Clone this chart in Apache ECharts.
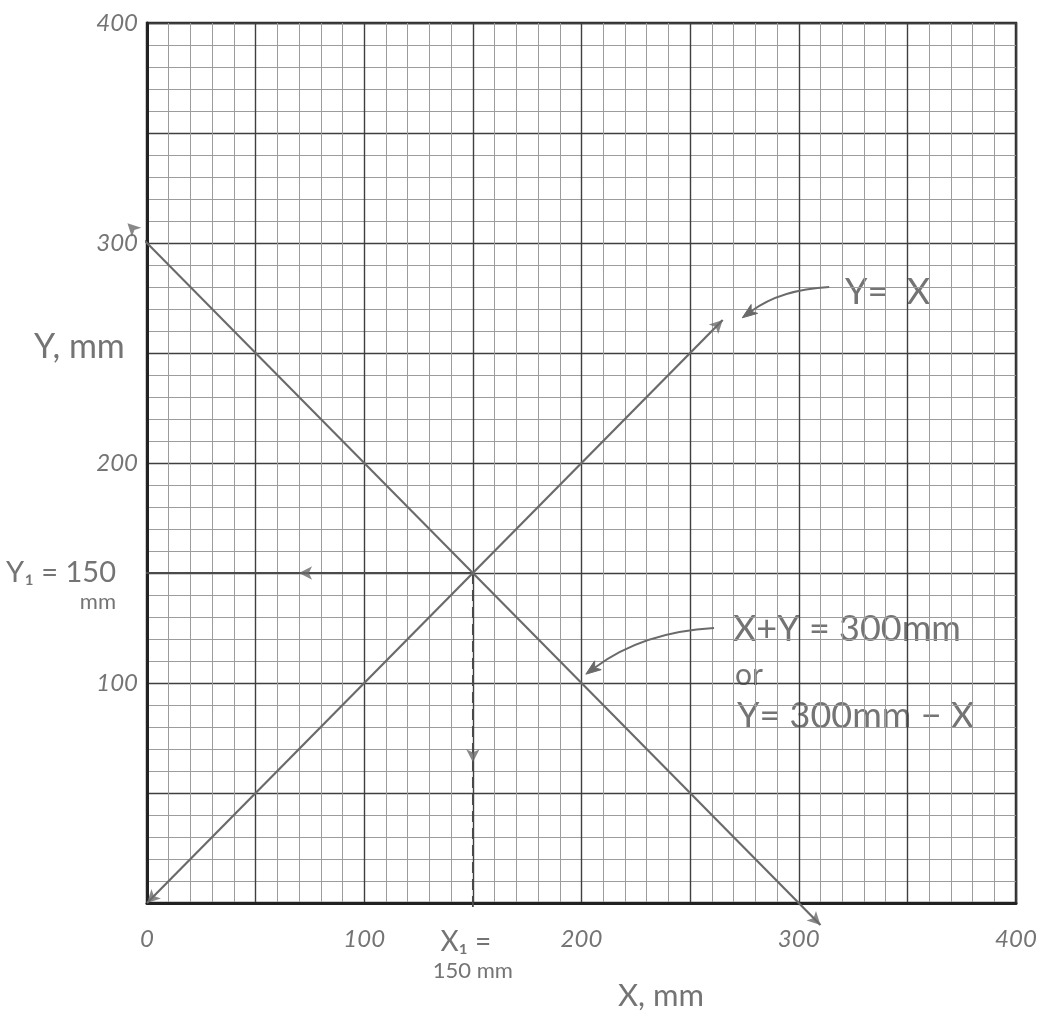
<!DOCTYPE html>
<html><head><meta charset="utf-8">
<script src="https://cdn.jsdelivr.net/npm/echarts@6/dist/echarts.min.js"></script>
<style>html,body{margin:0;padding:0;background:#fff}#c{width:1051px;height:1016px}</style>
</head><body><div id="c"></div>
<script>
// ---- data ----
const axisMin = 0, axisMax = 400, majorStep = 50, minorPerMajor = 5;
const xTickLabels = [0, 100, 200, 300, 400];
const yTickLabels = [100, 200, 300, 400];
const solutionX = 150, solutionY = 150;
const lineYeqX = [[0, 0], [265, 265]];
const lineSum300 = [[-9, 309], [310, -10]];
const projY = [[150, 150], [-3, 150]];
const projX = [[150, 150], [150, -4]];
const projYArrowAt = [70, 150];
const projXArrowAt = [150, 64];
const calloutYeqX = [314, 280, 274, 266];
const calloutSum = [261, 125, 202, 104];

// ---- helpers ----
function dirRot(a, b) { // rotation so that 'arrow' symbol points from a to b
  const ang = Math.atan2(b[1] - a[1], b[0] - a[0]) * 180 / Math.PI;
  return ang - 90;
}
const arrowPts = [
  { value: lineYeqX[1], symbolRotate: dirRot(lineYeqX[0], lineYeqX[1]) },
  { value: lineYeqX[0], symbolRotate: dirRot(lineYeqX[1], lineYeqX[0]) },
  { value: lineSum300[0], symbolRotate: dirRot(lineSum300[1], lineSum300[0]) },
  { value: lineSum300[1], symbolRotate: dirRot(lineSum300[0], lineSum300[1]) },
  { value: projYArrowAt, symbolRotate: dirRot(projY[0], projY[1]) },
  { value: projXArrowAt, symbolRotate: dirRot(projX[0], projX[1]) }
];

const ink = '#6a6a6a';
const txt = '#747474';
const fontFam = 'Lato, "Open Sans", sans-serif';

function renderCallout(params, api) {
  const p0 = api.coord([api.value(0), api.value(1)]);
  const p1 = api.coord([api.value(2), api.value(3)]);
  const mx = (p0[0] + p1[0]) / 2, my = (p0[1] + p1[1]) / 2;
  const dx = p1[0] - p0[0], dy = p1[1] - p0[1];
  const k = 0.15;
  const cx = mx - dy * k, cy = my + dx * k;
  let tx = p1[0] - cx, ty = p1[1] - cy;
  const tl = Math.hypot(tx, ty); tx /= tl; ty /= tl;
  const L = 15, W = 5.5;
  const bx = p1[0] - tx * L, by = p1[1] - ty * L;
  return {
    type: 'group',
    children: [
      { type: 'bezierCurve', shape: { x1: p0[0], y1: p0[1], x2: bx + tx * 4, y2: by + ty * 4, cpx1: cx, cpy1: cy },
        style: { stroke: ink, lineWidth: 1.8, fill: null } },
      { type: 'polygon', shape: { points: [[p1[0], p1[1]], [bx - ty * W, by + tx * W], [bx + tx * 4, by + ty * 4], [bx + ty * W, by - tx * W]] },
        style: { fill: ink, stroke: ink, lineWidth: 1 } }
    ]
  };
}

const chart = echarts.init(document.getElementById('c'), null, { renderer: 'canvas' });
chart.setOption({
  animation: false,
  backgroundColor: '#ffffff',
  grid: { left: 147, right: 35, top: 23, bottom: 113, show: true, borderColor: '#2e2e2e', borderWidth: 2.5 },
  xAxis: {
    type: 'value', min: axisMin, max: axisMax, interval: majorStep,
    minorTick: { show: false, splitNumber: minorPerMajor },
    minorSplitLine: { show: true, lineStyle: { color: '#9c9c9c', width: 1 } },
    splitLine: { show: true, lineStyle: { color: '#3f3f3f', width: 1.4 } },
    axisLine: { show: true, onZero: false, lineStyle: { color: '#222', width: 3 } },
    axisTick: { show: false },
    axisLabel: {
      showMinLabel: true, showMaxLabel: true, margin: 24,
      color: txt, fontSize: 24, fontStyle: 'italic', fontFamily: fontFam,
      formatter: v => v === solutionX ? '{a|X₁ =}\n{b|150 mm}' : (xTickLabels.includes(v) ? String(v) : ''),
      rich: {
        a: { fontSize: 28, color: txt, fontFamily: fontFam, fontStyle: 'normal', lineHeight: 30, padding: [0, 14, 0, 0] },
        b: { fontSize: 22, color: txt, fontFamily: fontFam, fontStyle: 'normal', lineHeight: 28 }
      }
    }
  },
  yAxis: {
    type: 'value', min: axisMin, max: axisMax, interval: majorStep,
    minorTick: { show: false, splitNumber: minorPerMajor },
    minorSplitLine: { show: true, lineStyle: { color: '#9c9c9c', width: 1 } },
    splitLine: { show: true, lineStyle: { color: '#3f3f3f', width: 1.4 } },
    axisLine: { show: true, onZero: false, lineStyle: { color: '#222', width: 3 } },
    axisTick: { show: false },
    axisLabel: {
      showMinLabel: false, showMaxLabel: true, margin: 9,
      color: txt, fontSize: 24, fontStyle: 'italic', fontFamily: fontFam,
      formatter: v => v === solutionY ? '{e| }\n{a|Y₁ = 150}\n{b|mm}' : (yTickLabels.includes(v) ? String(v) : ''),
      rich: {
        e: { fontSize: 20, lineHeight: 26 },
        a: { fontSize: 29, color: txt, fontFamily: fontFam, fontStyle: 'normal', lineHeight: 32, padding: [0, 22, 0, 0], align: 'right' },
        b: { fontSize: 22, color: txt, fontFamily: fontFam, fontStyle: 'normal', lineHeight: 26, padding: [0, 22, 0, 0], align: 'right' }
      }
    }
  },
  graphic: [
    { type: 'text', left: 34, top: 330, style: { text: 'Y, mm', font: '34px ' + fontFam, fill: txt } },
    { type: 'text', left: 618, top: 980, style: { text: 'X, mm', font: '31px ' + fontFam, fill: txt } },
    { type: 'text', left: 845, top: 274, style: { text: 'Y=  X', font: '36px ' + fontFam, fill: txt } },
    { type: 'text', left: 733, top: 611, style: { text: 'X+Y = 300mm', font: '36px ' + fontFam, fill: txt } },
    { type: 'text', left: 735, top: 660, style: { text: 'or', font: '30px ' + fontFam, fill: txt } },
    { type: 'text', left: 737, top: 698, style: { text: 'Y= 300mm − X', font: '36px ' + fontFam, fill: txt } }
  ],
  series: [
    { name: 'Y = X', type: 'line', data: lineYeqX, symbol: 'none', clip: false, z: 5,
      lineStyle: { color: ink, width: 2.2 } },
    { name: 'X + Y = 300 mm', type: 'line', data: lineSum300, symbol: 'none', clip: false, z: 5,
      lineStyle: { color: ink, width: 2.2 } },
    { name: 'Y1 projection', type: 'line', data: projY, symbol: 'none', clip: false, z: 4,
      lineStyle: { color: '#4a4a4a', width: 1.8 } },
    { name: 'X1 projection', type: 'line', data: projX, symbol: 'none', clip: false, z: 4,
      lineStyle: { color: '#4a4a4a', width: 1.8, type: [11, 6] } },
    { name: 'arrows', type: 'scatter', data: arrowPts, symbol: 'arrow', symbolSize: [10, 13], clip: false, z: 6,
      itemStyle: { color: ink } },
    { name: 'callouts', type: 'custom', z: 6, silent: true,
      data: [calloutYeqX, calloutSum],
      renderItem: renderCallout }
  ]
});
</script>
</body></html>
